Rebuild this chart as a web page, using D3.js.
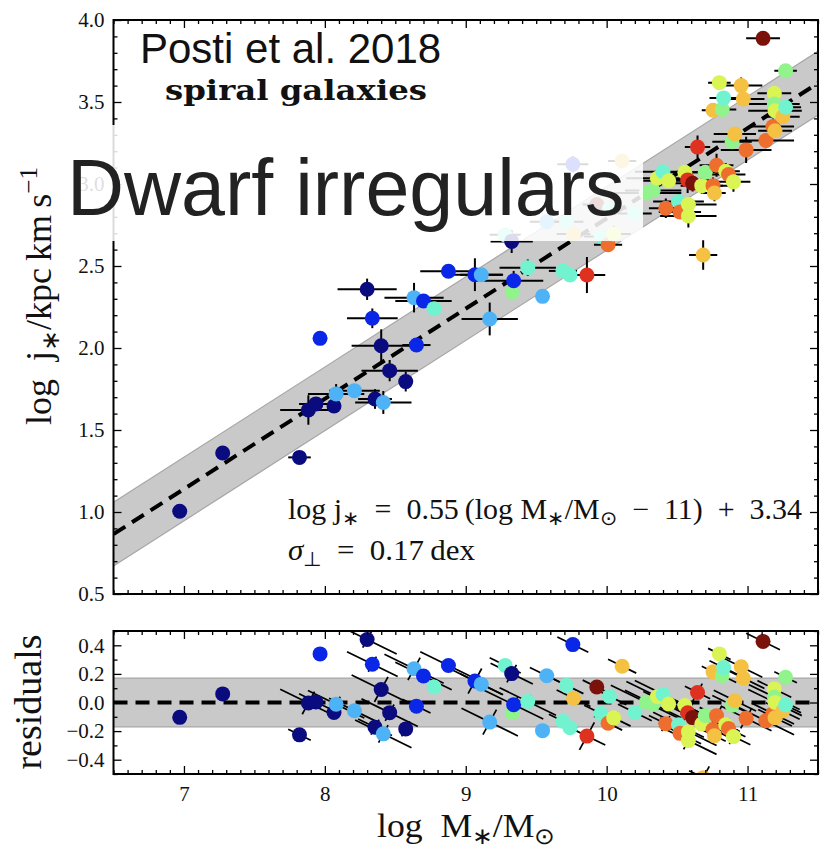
<!DOCTYPE html>
<html>
<head>
<meta charset="utf-8">
<script src="https://cdn.jsdelivr.net/npm/d3@7"></script>
<style>
  body { margin: 0; background: #fff; }
  svg { display: block; }
</style>
</head>
<body>
<svg id="chart" width="822" height="852"></svg>
<script>
// Stellar mass (log M*/Msun) of each galaxy
const logMass = [
  6.97, 7.275, 7.82, 7.883, 7.937, 7.966, 8.065, 8.08, 8.21, 8.30,
  8.337, 8.356, 8.40, 8.415, 8.46, 8.574, 8.633, 8.65, 8.70, 8.775,
  8.877, 9.065, 9.11, 9.17, 9.28, 9.326, 9.33, 9.34, 9.44, 9.545,
  9.575, 9.69, 9.715, 9.74, 9.76, 9.765, 9.86, 9.93, 9.96, 10.01,
  10.02, 10.05, 10.11, 10.20, 10.28, 10.33, 10.36, 10.40, 10.42, 10.44,
  10.51, 10.52, 10.555, 10.58, 10.58, 10.575, 10.61, 10.645, 10.675, 10.685,
  10.70, 10.755, 10.765, 10.755, 10.78, 10.80, 10.82, 10.83, 10.845, 10.865,
  10.89, 10.90, 10.91, 10.955, 10.97, 10.99, 11.11, 11.13, 11.18, 11.19,
  11.19, 11.195, 11.195, 11.25, 11.27, 11.27
];
// Specific angular momentum (log j*/kpc km s^-1)
const logJ = [
  1.005, 1.36, 1.333, 1.622, 1.659, 2.059, 1.646, 1.72, 1.74, 2.358,
  2.181, 1.689, 2.014, 1.668, 1.862, 1.795, 2.307, 2.018, 2.287, 2.24,
  2.468, 2.447, 2.447, 2.177, 2.69, 2.65, 2.34, 2.41, 2.49, 2.315,
  2.77, 2.47, 2.77, 2.445, 3.12, 2.695, 2.445, 2.875, 2.68, 2.63,
  2.85, 2.695, 3.14, 2.82, 2.945, 2.96, 3.035, 3.075, 2.852, 3.02,
  2.893, 2.83, 3.072, 2.875, 2.805, 3.025, 3.005, 3.225, 2.99, 2.567,
  3.072, 2.99, 2.945, 3.45, 3.114, 3.618, 3.455, 3.525, 3.078, 3.058,
  3.258, 3.013, 3.305, 3.60, 3.518, 3.208, 3.888, 3.265, 3.35, 3.553,
  3.488, 3.447, 3.325, 3.41, 3.468, 3.69
];
// Uncertainties on log M* and log j*
const errMass = [
  0, 0, 0.08, 0.2, 0.12, 0, 0, 0.2, 0.18, 0.21,
  0.18, 0.12, 0.21, 0.2, 0.2, 0, 0.21, 0.1, 0.2, 0,
  0.2, 0.2, 0.15, 0.2, 0.11, 0.15, 0, 0.21, 0.2, 0,
  0.12, 0.1, 0.12, 0.05, 0.11, 0.12, 0.13, 0.1, 0.12, 0.1,
  0.12, 0.12, 0.1, 0.12, 0.25, 0.2, 0.22, 0.2, 0.12, 0.18,
  0.18, 0.15, 0.2, 0.2, 0.2, 0.15, 0.15, 0.09, 0.15, 0.1,
  0.12, 0.15, 0.08, 0.08, 0.12, 0.08, 0.1, 0.1, 0.1, 0.12,
  0.14, 0.12, 0.15, 0.15, 0.15, 0.18, 0.12, 0.2, 0.15, 0.12,
  0.18, 0.19, 0.12, 0.12, 0.11, 0.08
];
const errJ = [
  0, 0, 0.02, 0.09, 0.04, 0, 0, 0.06, 0.04, 0.065,
  0.06, 0.06, 0.1, 0.07, 0.065, 0.06, 0.09, 0.02, 0.03, 0,
  0.02, 0.1, 0.03, 0.1, 0.03, 0.07, 0, 0.06, 0.05, 0,
  0.03, 0.02, 0.03, 0, 0.05, 0.04, 0.11, 0.03, 0.04, 0.03,
  0.03, 0.05, 0.03, 0.04, 0.03, 0.03, 0.03, 0.03, 0.06, 0.03,
  0.05, 0.03, 0.03, 0.03, 0.07, 0.08, 0.05, 0.07, 0.05, 0.09,
  0.03, 0.05, 0.05, 0.03, 0.07, 0.03, 0.02, 0.02, 0.05, 0.05,
  0.03, 0.06, 0.04, 0.05, 0.03, 0.08, 0.02, 0.03, 0.05, 0.02,
  0.03, 0.03, 0.03, 0.03, 0.03, 0.02
];
// Colour class of each galaxy (index into the palette)
const colourClass = [
  0, 0, 0, 0, 0, 1, 0, 2, 2, 0,
  1, 0, 0, 2, 0, 0, 2, 1, 1, 3,
  1, 1, 2, 2, 3, 0, 4, 1, 3, 2,
  2, 3, 3, 3, 1, 6, 8, 9, 3, 7,
  3, 5, 6, 3, 4, 4, 5, 3, 7, 5,
  3, 7, 5, 5, 5, 8, 9, 8, 5, 6,
  4, 7, 6, 6, 7, 5, 4, 3, 5, 7,
  4, 5, 6, 6, 6, 7, 9, 7, 7, 5,
  4, 5, 6, 6, 3, 4
];
const palette = ["#0b0b80", "#0a27e8", "#4db3f6", "#72f3d0", "#90f38b",
                 "#d9f453", "#f5c142", "#ee6e2d", "#df311f", "#7a120b"];

// Axis ticks and labels
const xTicks = [7, 8, 9, 10, 11];
const yTicksMain = [0.5, 1.0, 1.5, 2.0, 2.5, 3.0, 3.5, 4.0];
const yTicksRes = [-0.4, -0.2, 0.0, 0.2, 0.4];

// Best-fit relation and its orthogonal scatter
const fitSlope = 0.55, fitPivot = 11, fitNorm = 3.34, sigmaPerp = 0.17;

const serif = "'Liberation Serif', 'Times New Roman', serif";
const sans = "'Liberation Sans', Arial, Helvetica, sans-serif";

const svg = d3.select("#chart");
const L = 113.5, R = 818;
const mainTop = 20, mainBottom = 594;
const resTop = 631, resBottom = 774;

const x = d3.scaleLinear().domain([6.5, 11.5]).range([L, R]);
const yMain = d3.scaleLinear().domain([0.5, 4.0]).range([mainBottom, mainTop]);
const yRes = d3.scaleLinear().domain([-0.5, 0.5]).range([resBottom, resTop]);

const fit = m => fitSlope * (m - fitPivot) + fitNorm;
const norm = Math.sqrt(1 + fitSlope * fitSlope);
const halfBand = sigmaPerp * norm;

const galaxies = logMass.map((m, i) => ({
  m, j: logJ[i], em: errMass[i], ej: errJ[i], c: palette[colourClass[i]],
  r: (logJ[i] - fit(m)) / norm
}));

const defs = svg.append("defs");
defs.append("clipPath").attr("id", "clipMain").append("rect")
  .attr("x", L).attr("y", mainTop).attr("width", R - L).attr("height", mainBottom - mainTop);
defs.append("clipPath").attr("id", "clipRes").append("rect")
  .attr("x", L).attr("y", resTop).attr("width", R - L).attr("height", resBottom - resTop);

// ---------- main panel ----------
const gMain = svg.append("g").attr("clip-path", "url(#clipMain)");
const xEnds = x.domain();

gMain.append("path")
  .attr("d", d3.area().x(d => x(d)).y0(d => yMain(fit(d) - halfBand)).y1(d => yMain(fit(d) + halfBand))(xEnds))
  .attr("fill", "#c9c9c9");
[-1, 1].forEach(s => gMain.append("path")
  .attr("d", d3.line().x(d => x(d)).y(d => yMain(fit(d) + s * halfBand))(xEnds))
  .attr("stroke", "#a6a6a6").attr("stroke-width", 1.2).attr("fill", "none"));
gMain.append("path")
  .attr("d", d3.line().x(d => x(d)).y(d => yMain(fit(d)))(xEnds))
  .attr("stroke", "#000").attr("stroke-width", 4).attr("stroke-dasharray", "14,8").attr("fill", "none");

const eb = gMain.append("g").attr("stroke", "#000").attr("stroke-width", 2);
galaxies.forEach(g => {
  if (g.em > 0) eb.append("line").attr("x1", x(g.m - g.em)).attr("x2", x(g.m + g.em))
    .attr("y1", yMain(g.j)).attr("y2", yMain(g.j));
  if (g.ej > 0) eb.append("line").attr("x1", x(g.m)).attr("x2", x(g.m))
    .attr("y1", yMain(g.j - g.ej)).attr("y2", yMain(g.j + g.ej));
});
gMain.append("g").selectAll("circle").data(galaxies).join("circle")
  .attr("cx", d => x(d.m)).attr("cy", d => yMain(d.j)).attr("r", 7.5).attr("fill", d => d.c);

// ---------- residual panel ----------
const gRes = svg.append("g").attr("clip-path", "url(#clipRes)");
gRes.append("rect").attr("x", L).attr("width", R - L)
  .attr("y", yRes(sigmaPerp)).attr("height", yRes(-sigmaPerp) - yRes(sigmaPerp)).attr("fill", "#c9c9c9");
[-1, 1].forEach(s => gRes.append("line").attr("x1", L).attr("x2", R)
  .attr("y1", yRes(s * sigmaPerp)).attr("y2", yRes(s * sigmaPerp))
  .attr("stroke", "#a6a6a6").attr("stroke-width", 1.2));
gRes.append("line").attr("x1", L).attr("x2", R).attr("y1", yRes(0)).attr("y2", yRes(0))
  .attr("stroke", "#000").attr("stroke-width", 4).attr("stroke-dasharray", "14,8");

const ebr = gRes.append("g").attr("stroke", "#000").attr("stroke-width", 1.7);
galaxies.forEach(g => {
  const dr = fitSlope * g.em / norm;
  if (g.em > 0) ebr.append("line").attr("x1", x(g.m - g.em)).attr("x2", x(g.m + g.em))
    .attr("y1", yRes(g.r + dr)).attr("y2", yRes(g.r - dr));
  const k = fitSlope * g.ej / norm, dj = g.ej / norm;
  if (g.ej > 0) ebr.append("line").attr("x1", x(g.m - k)).attr("x2", x(g.m + k))
    .attr("y1", yRes(g.r - dj)).attr("y2", yRes(g.r + dj));
});
gRes.append("g").selectAll("circle").data(galaxies).join("circle")
  .attr("cx", d => x(d.m)).attr("cy", d => yRes(d.r)).attr("r", 7.5).attr("fill", d => d.c);

// ---------- axes ----------
function frame(yScale, top, bottom, yMajor, yMinor, yFormat, xLabels) {
  const xMinor = d3.range(6.5, 11.51, 0.1).map(v => +v.toFixed(2)).filter(v => !xTicks.includes(v));
  const style = g => {
    g.select(".domain").remove();
    g.selectAll("line").attr("stroke", "#000").attr("stroke-width", 1.3);
    g.selectAll("text").attr("font-family", serif).attr("fill", "#111");
  };
  svg.append("g").attr("transform", `translate(0,${bottom})`)
    .call(d3.axisBottom(x).tickValues(xTicks).tickSize(-8).tickPadding(12)
      .tickFormat(xLabels ? d3.format("d") : ""))
    .call(style).selectAll("text").attr("font-size", 21);
  svg.append("g").attr("transform", `translate(0,${bottom})`)
    .call(d3.axisBottom(x).tickValues(xMinor).tickSize(-4).tickFormat("")).call(style);
  svg.append("g").attr("transform", `translate(0,${top})`)
    .call(d3.axisTop(x).tickValues(xTicks).tickSize(-8).tickFormat("")).call(style);
  svg.append("g").attr("transform", `translate(0,${top})`)
    .call(d3.axisTop(x).tickValues(xMinor).tickSize(-4).tickFormat("")).call(style);
  svg.append("g").attr("transform", `translate(${L},0)`)
    .call(d3.axisLeft(yScale).tickValues(yMajor).tickSize(-8).tickPadding(9).tickFormat(yFormat))
    .call(style).selectAll("text").attr("font-size", 21);
  svg.append("g").attr("transform", `translate(${L},0)`)
    .call(d3.axisLeft(yScale).tickValues(yMinor).tickSize(-4).tickFormat("")).call(style);
  svg.append("g").attr("transform", `translate(${R},0)`)
    .call(d3.axisRight(yScale).tickValues(yMajor).tickSize(-8).tickFormat("")).call(style);
  svg.append("g").attr("transform", `translate(${R},0)`)
    .call(d3.axisRight(yScale).tickValues(yMinor).tickSize(-4).tickFormat("")).call(style);
  svg.append("rect").attr("x", L).attr("y", top).attr("width", R - L).attr("height", bottom - top)
    .attr("fill", "none").attr("stroke", "#000").attr("stroke-width", 2);
}
const minorMain = d3.range(0.5, 4.001, 0.1).map(v => +v.toFixed(2)).filter(v => !yTicksMain.includes(v));
const minorRes = [-0.5, -0.3, -0.1, 0.1, 0.3, 0.5];
frame(yMain, mainTop, mainBottom, yTicksMain, minorMain, d3.format(".1f"), false);
frame(yRes, resTop, resBottom, yTicksRes, minorRes, v => d3.format(".1f")(v).replace("-", "\u2212"), true);

// ---------- text ----------
function rich(sel, parts, size) {
  let shift = 0;
  parts.forEach(p => {
    const t = sel.append("tspan").text(p.t);
    let target = 0;
    if (p.sub) { t.attr("font-size", size * 0.7); target = size * 0.22; }
    if (p.sup) { t.attr("font-size", size * 0.7); target = -size * 0.38; }
    if (p.it) t.attr("font-style", "italic");
    if (target !== shift) { t.attr("dy", target - shift); shift = target; }
  });
}

svg.append("text").attr("x", 140).attr("y", 63).attr("font-family", sans)
  .attr("font-size", 42).attr("fill", "#111").text("Posti et al. 2018");
svg.append("text").attr("x", 165).attr("y", 100).attr("font-family", "'DejaVu Serif', serif")
  .attr("font-weight", "bold").attr("font-size", 28).attr("fill", "#111")
  .attr("textLength", 262).attr("lengthAdjust", "spacingAndGlyphs").text("spiral galaxies");

const sp = "\u2002";
const f1 = svg.append("text").attr("x", 288).attr("y", 519).attr("font-family", serif)
  .attr("font-size", 29).attr("fill", "#111")
  .attr("textLength", 514).attr("lengthAdjust", "spacingAndGlyphs");
rich(f1, [{t: "log j"}, {t: "\u2217", sub: true}, {t: `${sp}=${sp}0.55\u2009(log M`}, {t: "\u2217", sub: true},
  {t: "/M"}, {t: "\u2299", sub: true}, {t: `${sp}\u2212${sp}11)${sp}+${sp}3.34`}], 29);
const f2 = svg.append("text").attr("x", 288).attr("y", 560).attr("font-family", serif)
  .attr("font-size", 29).attr("fill", "#111")
  .attr("textLength", 187).attr("lengthAdjust", "spacingAndGlyphs");
rich(f2, [{t: "\u03c3", it: true}, {t: "\u22a5", sub: true}, {t: `${sp}=${sp}0.17\u2009dex`}], 29);

const xl = svg.append("text").attr("x", 377).attr("y", 837).attr("font-family", serif)
  .attr("font-size", 33).attr("fill", "#111")
  .attr("textLength", 178).attr("lengthAdjust", "spacingAndGlyphs");
rich(xl, [{t: "log\u2002M"}, {t: "\u2217", sub: true}, {t: "/M"}, {t: "\u2299", sub: true}], 33);

const yl = svg.append("text").attr("transform", "translate(51,296) rotate(-90)")
  .attr("text-anchor", "middle").attr("font-family", serif).attr("font-size", 36).attr("fill", "#111");
rich(yl, [{t: "log\u2002j"}, {t: "\u2217", sub: true}, {t: "/kpc\u2009km\u2009s"}, {t: "\u22121", sup: true}], 36);

svg.append("text").attr("transform", "translate(41,702) rotate(-90)")
  .attr("text-anchor", "middle").attr("font-family", serif).attr("font-size", 38).attr("fill", "#111")
  .text("residuals");

// ---------- overlay caption ----------
svg.append("rect").attr("x", 73).attr("y", 125).attr("width", 570).attr("height", 116)
  .attr("fill", "#fff").attr("fill-opacity", 0.86);
svg.append("text").attr("x", 67).attr("y", 215).attr("font-family", sans)
  .attr("font-size", 79).attr("fill", "#222").text("Dwarf irregulars");
</script>
</body>
</html>
